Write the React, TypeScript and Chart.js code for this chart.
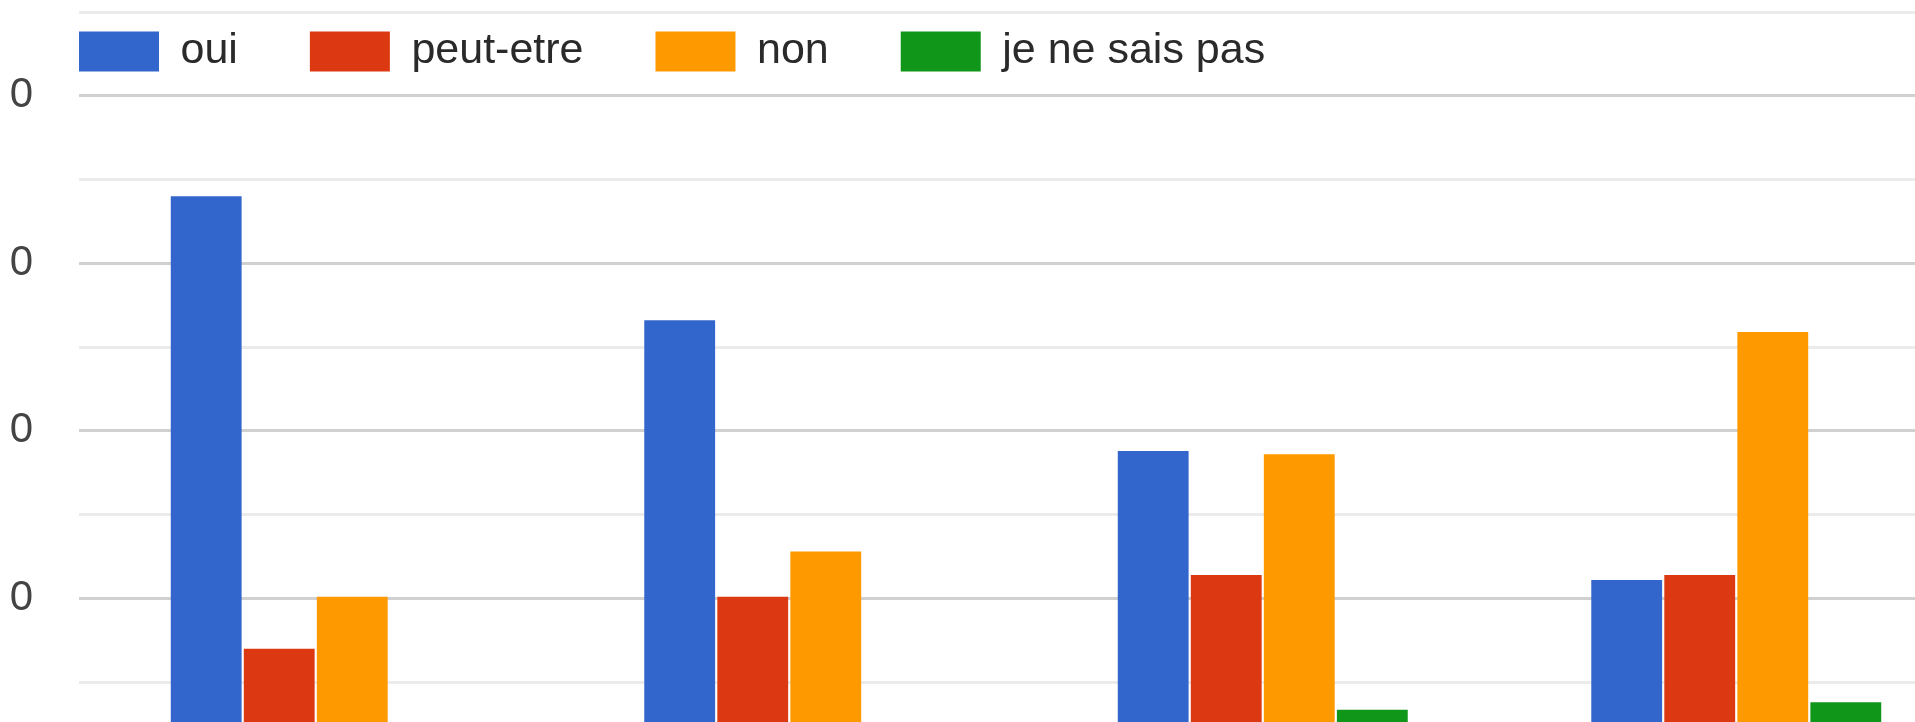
import React, { useEffect, useRef } from 'react';
import { Chart, registerables } from 'chart.js';

Chart.register(...registerables);

// ---- data ----
const categories = ['1', '2', '3', '4'];
const seriesLabels = ['oui', 'peut-etre', 'non', 'je ne sais pas'];
const oui = [34.0, 26.6, 18.8, 11.1];
const peutEtre = [7.0, 10.1, 11.4, 11.4];
const non = [10.1, 12.8, 18.6, 25.9];
const jeNeSaisPas = [0, 0, 3.35, 3.8];
const seriesColors = ['#3366cc', '#dc3912', '#ff9900', '#109618'];
const yMin = 0;
const yMax = 45;
const yStep = 5;
const yLabelStep = 10;

const FONT = "'Liberation Sans', Arial, sans-serif";

// Legend drawn over the plot area (it reserves no space), at a fixed spot.
const legendOverlay = {
  id: 'legendOverlay',
  afterInit(chart: any) {
    const lg = chart.legend;
    if (!lg || lg._patched) return;
    const origFit = lg.fit.bind(lg);
    lg.fit = function () {
      origFit();
      this._realHeight = this.height;
      this.height = 0;
    };
    lg._patched = true;
  },
  afterLayout(chart: any) {
    const lg = chart.legend;
    if (!lg) return;
    const h = lg._realHeight || 200;
    const left = 7;
    const top = -42;
    const w = lg.width;
    lg.height = h;
    lg.left = left;
    lg.right = left + w;
    lg.top = top;
    lg.bottom = top + h;
  },
};

export default function App() {
  const ref = useRef<HTMLCanvasElement>(null);

  useEffect(() => {
    const seriesData = [oui, peutEtre, non, jeNeSaisPas];
    const chart = new Chart(ref.current as HTMLCanvasElement, {
      type: 'bar',
      data: {
        labels: categories,
        datasets: seriesLabels.map((label, i) => ({
          label,
          data: seriesData[i],
          backgroundColor: seriesColors[i],
          borderWidth: 0,
          categoryPercentage: 0.617,
          barPercentage: 0.97,
        })),
      },
      options: {
        animation: false,
        responsive: false,
        devicePixelRatio: 1,
        layout: { padding: { left: 0, top: 12, right: 27, bottom: 34 } },
        plugins: {
          tooltip: { enabled: false },
          legend: {
            position: 'top',
            align: 'start',
            labels: {
              boxWidth: 80,
              boxHeight: 40,
              padding: 72,
              color: '#2a2a2a',
              font: { family: FONT, size: 43 },
            },
          },
        },
        scales: {
          x: { display: false },
          y: {
            min: yMin,
            max: yMax,
            afterFit(scale: any) {
              scale.width = 79;
              scale.paddingTop = 0;
              scale.paddingBottom = 0;
            },
            border: { display: false },
            grid: {
              drawTicks: false,
              color: (ctx: any) =>
                ctx.tick && ctx.tick.value % yLabelStep === 0 ? '#d0d0d0' : '#ebebeb',
              lineWidth: 3,
            },
            ticks: {
              stepSize: yStep,
              autoSkip: false,
              padding: 46,
              color: '#444',
              font: { family: FONT, size: 42 },
              callback: (v: any) => (Number(v) % yLabelStep === 0 ? String(v) : ''),
            },
          },
        },
      },
      plugins: [legendOverlay],
    } as any);
    return () => chart.destroy();
  }, []);

  return (
    <div
      style={{
        position: 'fixed',
        left: 10,
        top: 0,
        width: 1905,
        height: 722,
        overflow: 'hidden',
        background: '#fff',
      }}
    >
      <canvas
        ref={ref}
        width={2000}
        height={800}
        style={{ position: 'absolute', left: -10, top: 0, width: 2000, height: 800 }}
      />
    </div>
  );
}
